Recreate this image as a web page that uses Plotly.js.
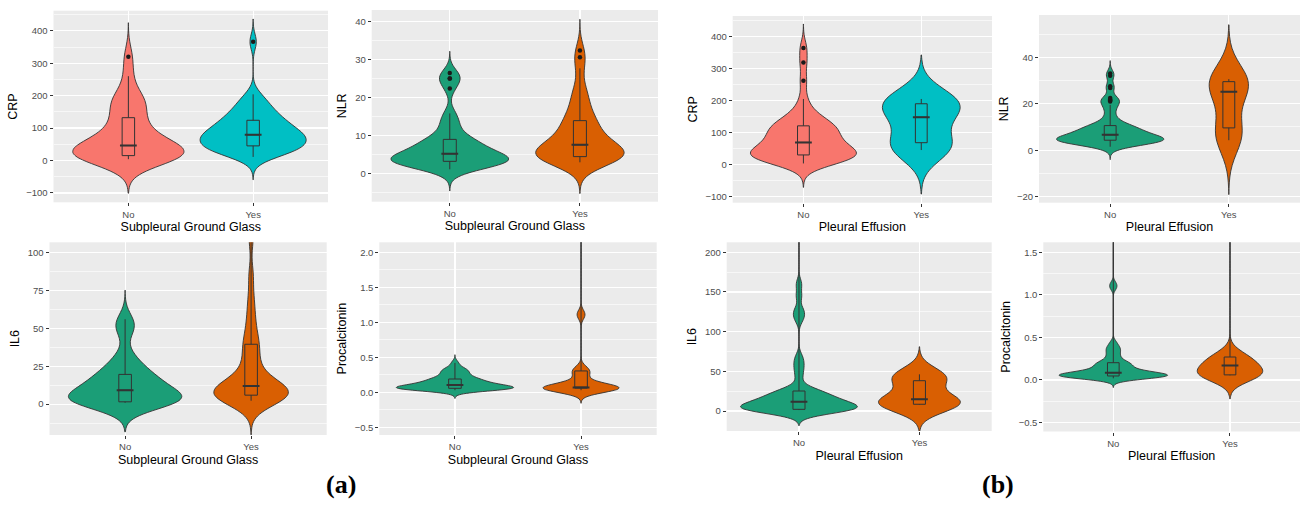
<!DOCTYPE html>
<html><head><meta charset="utf-8">
<script src="https://cdn.plot.ly/plotly-3.0.1.min.js"></script>
<style>html,body{margin:0;padding:0;background:#fff;}#chart{width:1303px;height:505px;}</style>
</head><body><div id="chart"></div>
<script>
// ---- categories, titles ----
const categories = ['No', 'Yes'];
const yTitles = ['CRP', 'NLR', 'CRP', 'NLR', 'IL6', 'Procalcitonin', 'IL6', 'Procalcitonin'];
const xTitles = ['Subpleural Ground Glass', 'Subpleural Ground Glass', 'Pleural Effusion', 'Pleural Effusion',
                 'Subpleural Ground Glass', 'Subpleural Ground Glass', 'Pleural Effusion', 'Pleural Effusion'];
const panelLabels = ['(a)', '(b)'];

// ---- sample values ----
const crpSggNo  = [4, 6, 8, 9, 11, 12, 14, 15, 18, 22, 27, 31, 35, 40, 44, 48, 55, 64, 75, 88, 100, 115, 132, 150, 168, 182, 192, 205, 260, 320];
const crpSggYes = [11, 15, 20, 25, 30, 34, 38, 41, 43, 44, 46, 50, 55, 60, 64, 68, 71, 74, 76, 78, 80, 84, 88, 92, 97, 102, 107, 112, 117, 122, 126, 132, 140, 148, 156, 165, 175, 188, 204, 366];
const nlrSggNo  = [1.05, 1.5, 2.0, 2.3, 2.6, 2.8, 2.9, 3.0, 3.1, 3.2, 3.4, 3.6, 3.8, 4.0, 4.2, 4.5, 4.8, 5.1, 5.2, 5.8, 6.2, 6.6, 7.0, 7.6, 8.2, 8.7, 8.9, 9.0, 11.0, 12.5, 14.0, 15.8, 22.4, 25.0, 25.0, 26.5];
const nlrSggYes = [2.9, 3.2, 3.5, 3.7, 3.9, 4.0, 4.1, 4.2, 4.3, 4.35, 4.45, 4.7, 5.0, 5.3, 5.6, 6.0, 6.4, 6.8, 7.1, 7.4, 7.6, 8.0, 8.6, 9.2, 9.9, 10.6, 11.4, 12.2, 13.0, 13.7, 14.1, 15.0, 16.5, 18.0, 19.5, 21.0, 23.0, 27.7, 30.6, 32.4];
const crpPeNo   = [3, 6, 9, 12, 15, 18, 20, 22, 24, 27, 29, 30.3, 33, 36, 39, 42, 45, 48, 51, 55, 59, 67, 71, 74, 79, 84, 89, 94, 99, 104, 109, 114, 119, 122.7, 124, 130, 138, 147, 158, 172, 205, 262, 319, 365];
const crpPeYes  = [45, 68, 148, 190, 205];
const nlrPeNo   = [1.5, 2.0, 2.4, 2.7, 3.0, 3.2, 3.3, 3.4, 3.5, 3.6, 3.7, 3.8, 3.9, 4.0, 4.1, 4.3, 4.4, 4.5, 4.6, 4.7, 4.8, 4.9, 5.0, 5.2, 5.4, 5.6, 5.8, 6.0, 6.2, 6.4, 6.5, 6.7, 6.9, 7.1, 7.4, 7.7, 8.0, 8.3, 8.6, 8.9, 9.2, 9.5, 9.8, 10.0, 10.2, 10.4, 10.6, 11.5, 12.5, 13.5, 15.0, 17.0, 18.5, 19.5, 21.0, 21.5, 21.8, 22.5, 26.8, 27.5, 32.0, 33.0];
const nlrPeYes  = [4.3, 9.6, 25.2, 29.5, 30.6];
const il6SggNo  = [0.9, 1.0, 1.1, 1.2, 1.3, 1.4, 1.45, 1.5, 2.5, 3.5, 4.5, 5.5, 6.5, 7.5, 8.5, 9.9, 11, 12.5, 14, 15.5, 17, 18.5, 19.6, 22, 25, 28, 33, 48, 52, 56];
const il6SggYes = [2.2, 3.0, 3.6, 4.2, 4.6, 5.0, 5.3, 5.6, 5.8, 6.2, 6.8, 7.4, 8.0, 8.8, 9.6, 10.4, 11.2, 11.9, 13, 15, 17, 20, 24, 28, 33, 38, 40, 45, 52, 60, 70, 85, 110, 200, 350];
const pctSggNo  = [0.03, 0.035, 0.04, 0.042, 0.045, 0.048, 0.05, 0.052, 0.054, 0.056, 0.058, 0.062, 0.066, 0.07, 0.075, 0.08, 0.085, 0.09, 0.095, 0.1, 0.11, 0.115, 0.12, 0.13, 0.14, 0.15, 0.16, 0.17, 0.18, 0.185, 0.195, 0.21, 0.23, 0.25, 0.27, 0.29, 0.31, 0.33, 0.35, 0.42];
const pctSggYes = [0.03, 0.035, 0.04, 0.045, 0.05, 0.053, 0.056, 0.06, 0.061, 0.062, 0.063, 0.064, 0.065, 0.066, 0.066, 0.068, 0.08, 0.1, 0.13, 0.17, 0.22, 0.27, 0.305, 0.32, 0.34, 1.09, 1.13, 2.4, 2.8, 4.5];
const il6PeNo   = [1.2, 1.3, 1.4, 1.5, 1.6, 1.7, 1.8, 1.85, 1.9, 1.95, 2.0, 2.05, 2.15, 3, 4, 5, 6, 7, 8, 9, 9.8, 10.5, 11.0, 11.6, 12.0, 13, 14, 15, 16, 17.5, 19, 20.5, 22, 23, 24, 25, 25.4, 30, 43, 52.5, 60, 68, 115, 122, 128, 145, 160, 260];
const il6PeYes  = [8, 8.5, 14.7, 38.2, 46.2];
const pctPeNo   = [0.02, 0.025, 0.03, 0.032, 0.034, 0.036, 0.038, 0.04, 0.042, 0.043, 0.044, 0.045, 0.049, 0.052, 0.055, 0.058, 0.061, 0.064, 0.067, 0.07, 0.074, 0.078, 0.081, 0.084, 0.088, 0.095, 0.105, 0.115, 0.125, 0.135, 0.145, 0.16, 0.17, 0.18, 0.19, 0.2, 0.206, 0.22, 0.25, 0.28, 0.31, 0.34, 0.37, 0.39, 0.44, 1.08, 1.13, 2.5];
const pctPeYes  = [0.055, 0.06, 0.17, 0.27, 2.9];

// ---- styling / layout configuration ----
const W = 1303, H = 505;
const hue = ['#F8766D', '#00BFC4'];
const dark2 = ['#1B9E77', '#D95F02'];
const panels = [
  {data: [crpSggNo, crpSggYes], pal: hue,   bw: [35, 23.5],     w: [0.89, 0.85], range: [-129, 462],   dtick: 100, fmt: '',    outliers: true,  box: [53.5, 328, 10.7, 202.3]},
  {data: [nlrSggNo, nlrSggYes], pal: dark2, bw: [1.9, 2.75],    w: [0.9, 0.68],  range: [-7.5, 43.1],  dtick: 10,  fmt: '',    outliers: true,  box: [371.7, 658, 10, 201.7]},
  {data: [crpPeNo, crpPeYes],   pal: hue,   bw: [25, 46],       w: [0.9, 0.66],  range: [-120, 465],   dtick: 100, fmt: '',    outliers: true,  box: [732.7, 992, 16, 202.7]},
  {data: [nlrPeNo, nlrPeYes],   pal: dark2, bw: [1.85, 7.8],    w: [0.9, 0.33],  range: [-22.6, 58.2], dtick: 20,  fmt: '',    outliers: true,  box: [1039, 1300, 15, 202.7]},
  {data: [il6SggNo, il6SggYes], pal: dark2, bw: [6.4, 7.5],     w: [0.9, 0.59],  range: [-20.4, 106.8],dtick: 25,  fmt: '',    outliers: false, box: [49.5, 326.7, 242.3, 435]},
  {data: [pctSggNo, pctSggYes], pal: dark2, bw: [0.039, 0.062], w: [0.93, 0.6],  range: [-0.61, 2.143],dtick: 0.5, fmt: '.1f', outliers: false, box: [379.3, 656.7, 242.3, 435]},
  {data: [il6PeNo, il6PeYes],   pal: dark2, bw: [6.5, 11.6],    w: [0.97, 0.68], range: [-25.2, 212.6],dtick: 50,  fmt: '',    outliers: false, box: [726.7, 991.7, 242.3, 431]},
  {data: [pctPeNo, pctPeYes],   pal: dark2, bw: [0.036, 0.092], w: [0.93, 0.56], range: [-0.605, 1.617],dtick: 0.5,fmt: '.1f', outliers: false, box: [1043.3, 1300, 242.3, 431.5]}
];
const labelPos = [[341, 484], [998, 484]];

function quantile(vals, p, method) {
  const s = vals.slice().sort((a, b) => a - b), n = s.length;
  let idx = p * n - 0.5;
  if (idx < 0) return s[0];
  if (idx > n - 1) return s[n - 1];
  const f = idx % 1;
  return f * s[Math.ceil(idx)] + (1 - f) * s[Math.floor(idx)];
}

const FONT = 'Liberation Sans, Arial, sans-serif';
const traces = [];
const layout = {
  width: W, height: H,
  margin: {l: 0, r: 0, t: 0, b: 0},
  paper_bgcolor: '#ffffff', plot_bgcolor: '#EBEBEB',
  showlegend: false,
  violinmode: 'overlay', boxmode: 'overlay',
  font: {family: FONT, color: '#000'},
  annotations: []
};

panels.forEach((p, i) => {
  const k = i + 1;
  const xa = 'x' + (k === 1 ? '' : k), ya = 'y' + (k === 1 ? '' : k);
  p.data.forEach((vals, j) => {
    const cat = categories[j];
    const mn = Math.min(...vals), mx = Math.max(...vals);
    traces.push({
      type: 'violin', xaxis: xa, yaxis: ya,
      x: vals.map(() => cat), y: vals, name: cat,
      bandwidth: p.bw[j], spanmode: 'manual', span: [mn - 3 * p.bw[j], mx + 3 * p.bw[j]],
      width: p.w[j], scalemode: 'width',
      fillcolor: p.pal[j], line: {color: '#333333', width: 0.9},
      points: false, box: {visible: false}, meanline: {visible: false},
      hoverinfo: 'skip'
    });
    traces.push({
      type: 'box', xaxis: xa, yaxis: ya,
      x: vals.map(() => cat), y: vals, name: cat,
      width: 0.1, whiskerwidth: 0,
      quartilemethod: vals.length < 10 ? 'inclusive' : 'linear',
      fillcolor: 'rgba(0,0,0,0)', line: {color: '#333333', width: 1},
      boxpoints: p.outliers ? 'outliers' : false, pointpos: 0, jitter: 0,
      marker: {color: '#1a1a1a', size: 4.5, line: {width: 0}},
      hoverinfo: 'skip'
    });
    // thicker median bar (as in ggplot's fattened median)
    traces.push({
      type: 'scatter', mode: 'markers', xaxis: xa, yaxis: ya,
      x: [cat], y: [quantile(vals, 0.5)],
      marker: {symbol: 'line-ew', size: 12, line: {color: '#333333', width: 2}},
      hoverinfo: 'skip'
    });
  });
  const [x0, x1, yt, yb] = p.box;
  layout['xaxis' + (k === 1 ? '' : k)] = {
    domain: [x0 / W, x1 / W], anchor: ya,
    type: 'category', categoryorder: 'array', categoryarray: categories,
    range: [-0.6, 1.6],
    showgrid: true, gridcolor: '#ffffff', gridwidth: 1.2, zeroline: false, showline: false,
    ticks: 'outside', ticklen: 3, tickwidth: 1, tickcolor: '#333333',
    tickfont: {family: FONT, size: 9.5, color: '#4D4D4D'},
    title: {text: xTitles[i], font: {family: FONT, size: 12.5, color: '#000'}, standoff: 3},
    fixedrange: true
  };
  layout['yaxis' + (k === 1 ? '' : k)] = {
    domain: [1 - yb / H, 1 - yt / H], anchor: xa,
    range: p.range, tick0: 0, dtick: p.dtick, tickformat: p.fmt,
    showgrid: true, gridcolor: '#ffffff', gridwidth: 1.2, zeroline: false, showline: false,
    minor: {tick0: 0, dtick: p.dtick / 2, showgrid: true, gridcolor: '#ffffff', gridwidth: 0.6, ticks: ''},
    ticks: 'outside', ticklen: 3, tickwidth: 1, tickcolor: '#333333',
    tickfont: {family: FONT, size: 9.5, color: '#4D4D4D'},
    title: {text: yTitles[i], font: {family: FONT, size: 12.5, color: '#000'}, standoff: 5},
    fixedrange: true
  };
});

panelLabels.forEach((t, i) => {
  layout.annotations.push({
    text: '<b>' + t + '</b>', xref: 'paper', yref: 'paper',
    x: labelPos[i][0] / W, y: 1 - labelPos[i][1] / H,
    xanchor: 'center', yanchor: 'middle', showarrow: false,
    font: {family: 'Liberation Serif, DejaVu Serif, serif', size: 26, color: '#000'}
  });
});

Plotly.newPlot('chart', traces, layout, {staticPlot: true, displayModeBar: false});
</script>
</body></html>
